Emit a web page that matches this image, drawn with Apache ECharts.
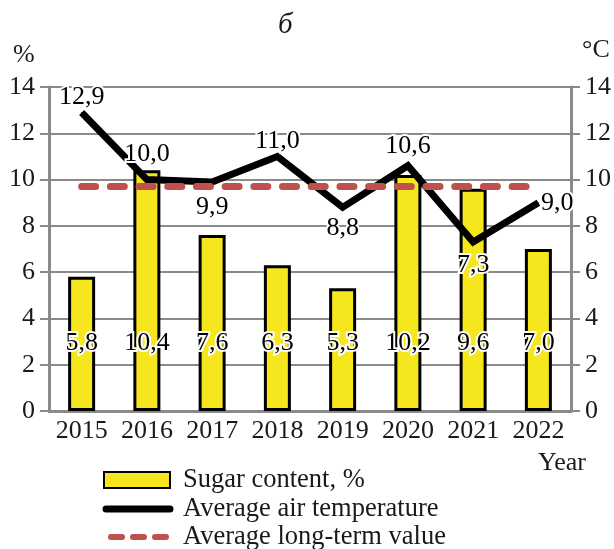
<!DOCTYPE html>
<html>
<head>
<meta charset="utf-8">
<script src="https://cdn.jsdelivr.net/npm/echarts@6/dist/echarts.min.js"></script>
<style>
  html, body { margin: 0; padding: 0; background: #fff; }
  #chart { width: 614px; height: 549px; }
</style>
</head>
<body>
<div id="chart"></div>
<script>
// Years on the horizontal axis
const years = ['2015', '2016', '2017', '2018', '2019', '2020', '2021', '2022'];
// Sugar content of the berries, %
const sugarContent = [5.8, 10.4, 7.6, 6.3, 5.3, 10.2, 9.6, 7.0];
// Average air temperature over the season, °C
const airTemperature = [12.9, 10.0, 9.9, 11.0, 8.8, 10.6, 7.3, 9.0];
// Long-term average temperature, °C
const longTermValue = [9.7, 9.7, 9.7, 9.7, 9.7, 9.7, 9.7, 9.7];
// Axis ticks
const axisMin = 0, axisMax = 14, axisStep = 2;

const seriesNames = ['Sugar content, %', 'Average air temperature', 'Average long-term value'];

const FONT = '"Liberation Serif", "DejaVu Serif", serif';
const INK = '#1a1a1a';
const GRID = '#8a8a8a';
const YELLOW = '#f5e61e';
const RED = '#c0504d';

const fmt = v => v.toFixed(1).replace('.', ',');

// where each temperature label sits relative to its point
const tempLabelPlace = [
  ['top', 2], ['top', 12], ['bottom', 12], ['top', 2],
  ['bottom', 7], ['top', 6], ['bottom', 10], ['right', 2]
];

const chart = echarts.init(document.getElementById('chart'), null, { renderer: 'canvas' });

const valueAxis = (side) => ({
  type: 'value',
  position: side,
  min: axisMin,
  max: axisMax,
  interval: axisStep,
  axisLine: { show: true, lineStyle: { color: GRID, width: 3 } },
  axisTick: { show: true, length: 9, lineStyle: { color: GRID, width: 2 } },
  axisLabel: {
    margin: 14, color: INK, fontFamily: FONT, fontSize: 26,
    formatter: v => String(v)
  },
  splitLine: { show: side === 'left', lineStyle: { color: GRID, width: 2 } }
});

// hand-built legend block below the plot
const legendX = 103, legendTextX = 183, legendRows = [480, 509, 537];
const legendGraphics = [
  { type: 'rect', shape: { x: legendX + 1, y: legendRows[0] - 8, width: 66, height: 16 },
    style: { fill: YELLOW, stroke: '#000', lineWidth: 2 } },
  { type: 'line', shape: { x1: legendX + 3, y1: legendRows[1], x2: legendX + 67, y2: legendRows[1] },
    style: { stroke: '#000', lineWidth: 7, lineCap: 'round' } },
  { type: 'line', shape: { x1: legendX + 8, y1: legendRows[2], x2: legendX + 67, y2: legendRows[2] },
    style: { stroke: RED, lineWidth: 6, lineCap: 'round', lineDash: [11, 11] } }
].concat(seriesNames.map((name, i) => ({
  type: 'text', x: legendTextX, y: legendRows[i],
  style: { text: name, font: '26.5px ' + FONT, fill: INK, verticalAlign: 'middle' }
})));

chart.setOption({
  animation: false,
  backgroundColor: '#fff',
  textStyle: { fontFamily: FONT },
  grid: { left: 49, right: 41, top: 87, bottom: 138, containLabel: false },
  xAxis: {
    type: 'category',
    data: years,
    boundaryGap: true,
    axisLine: { show: true, lineStyle: { color: GRID, width: 3 } },
    axisTick: { show: false },
    axisLabel: { interval: 0, margin: 7, color: INK, fontFamily: FONT, fontSize: 26 }
  },
  yAxis: [valueAxis('left'), valueAxis('right')],
  graphic: [
    { type: 'text', left: 278, top: 11,
      style: { text: 'б', font: 'italic 29px ' + FONT, fill: INK } },
    { type: 'text', left: 13, top: 42,
      style: { text: '%', font: '26px ' + FONT, fill: INK } },
    { type: 'text', left: 582, top: 37,
      style: { text: '°C', font: '26px ' + FONT, fill: INK } },
    { type: 'text', left: 538, top: 450,
      style: { text: 'Year', font: '26px ' + FONT, fill: INK } }
  ].concat(legendGraphics),
  series: [
    {
      name: seriesNames[0],
      type: 'bar',
      yAxisIndex: 0,
      data: sugarContent,
      barWidth: 27,
      itemStyle: { color: YELLOW, borderColor: '#000', borderWidth: 3 },
      label: {
        show: true,
        position: 'insideBottom',
        distance: 55,
        formatter: p => fmt(p.value),
        color: '#000', fontFamily: FONT, fontSize: 26,
        textBorderColor: '#fff', textBorderWidth: 4
      },
      z: 2
    },
    {
      name: seriesNames[1],
      type: 'line',
      yAxisIndex: 1,
      data: airTemperature.map((v, i) => ({
        value: v,
        label: { position: tempLabelPlace[i][0], distance: tempLabelPlace[i][1] }
      })),
      symbol: 'circle',
      symbolSize: 1,
      showSymbol: true,
      lineStyle: { color: '#000', width: 7, join: 'miter', cap: 'butt' },
      itemStyle: { color: '#000' },
      label: {
        show: true,
        formatter: p => fmt(p.value),
        color: '#000', fontFamily: FONT, fontSize: 26,
        textBorderColor: '#fff', textBorderWidth: 4
      },
      labelLayout: { hideOverlap: false },
      z: 3
    },
    {
      name: seriesNames[2],
      type: 'line',
      yAxisIndex: 1,
      data: longTermValue,
      symbol: 'none',
      lineStyle: { color: RED, width: 7, type: [14, 14.7], cap: 'round' },
      itemStyle: { color: RED },
      z: 4
    }
  ]
});
</script>
</body>
</html>
